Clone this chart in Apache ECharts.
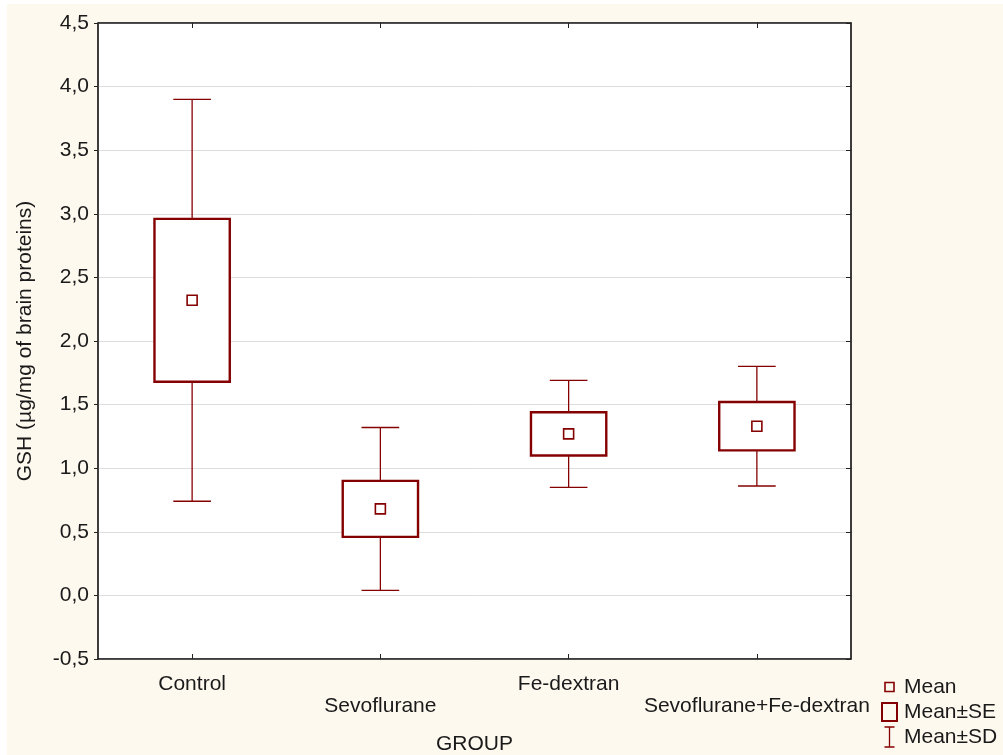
<!DOCTYPE html>
<html>
<head>
<meta charset="utf-8">
<title>GSH by group</title>
<script src="https://cdn.jsdelivr.net/npm/echarts@6/dist/echarts.min.js"></script>
<style>
  html, body { margin: 0; padding: 0; background: #ffffff; }
  #chart { position: absolute; left: 7px; top: 4px; width: 996px; height: 751px; }
</style>
</head>
<body>
<div id="chart"></div>
<script>
// GSH per treatment group: mean, standard error and standard deviation
const categories = ['Control', 'Sevoflurane', 'Fe-dextran', 'Sevoflurane+Fe-dextran'];
const means = [2.32, 0.68, 1.27, 1.33];
const se = [0.64, 0.22, 0.17, 0.19];
const sd = [1.58, 0.64, 0.42, 0.47];

// value axis range and step
const yMin = -0.5;
const yMax = 4.5;
const yStep = 0.5;

const RED = '#850000';
const FONT = "'Liberation Sans', Arial, sans-serif";
const FS = 21;
const TEXT = '#1a1a1a';
const AXIS = '#222222';

const sdData = categories.map((c, i) => [i, means[i] - sd[i], means[i] + sd[i]]);
const seData = categories.map((c, i) => [i, means[i] - se[i], means[i] + se[i]]);
const meanData = categories.map((c, i) => [i, means[i]]);

const chart = echarts.init(document.getElementById('chart'), null, { renderer: 'canvas' });

function legendEntry(name, icon, w, h, left, top, textPad, lineWidth) {
  return {
    orient: 'vertical',
    padding: 0,
    selectedMode: false,
    left: left,
    top: top,
    itemWidth: w,
    itemHeight: h,
    textStyle: { fontFamily: FONT, fontSize: FS, color: TEXT, padding: [0, 0, 0, textPad] },
    data: [{ name: name, icon: icon,
             itemStyle: { color: 'none', borderColor: RED, borderWidth: lineWidth } }]
  };
}

chart.setOption({
  animation: false,
  backgroundColor: '#fef9ef',
  textStyle: { fontFamily: FONT },
  grid: {
    left: 91, top: 19, right: 152, bottom: 96,
    outerBoundsMode: 'none',
    containLabel: false,
    show: true, backgroundColor: '#ffffff', borderColor: AXIS, borderWidth: 1
  },
  legend: [
    legendEntry('Mean', 'path://M0,0L9,0L9,9L0,9Z', 9, 9, 875.5, 672.5, 5, 1.6),
    legendEntry('Mean±SE', 'path://M0,0L15,0L15,18L0,18Z', 15, 18, 872.5, 696.5, 2, 2),
    legendEntry('Mean±SD', 'path://M0,0L10,0M5,0L5,20M0,20L10,20', 10, 20, 875, 720.5, 4.5, 1.3)
  ],
  xAxis: [
    {
      type: 'category',
      data: categories,
      position: 'bottom',
      name: 'GROUP',
      nameLocation: 'middle',
      nameGap: 75,
      nameTextStyle: { fontFamily: FONT, fontSize: FS, color: TEXT },
      axisLine: { show: true, onZero: false, lineStyle: { color: AXIS, width: 1.5 } },
      axisTick: { show: true, alignWithLabel: true, inside: true, length: 5, lineStyle: { color: AXIS } },
      axisLabel: {
        interval: 0,
        margin: 15,
        fontFamily: FONT,
        fontSize: FS,
        color: TEXT,
        formatter: (v, i) => (i % 2 ? '{lo|' + v + '}' : '{hi|' + v + '}'),
        rich: {
          hi: { fontFamily: FONT, fontSize: FS, color: TEXT, lineHeight: 21 },
          lo: { fontFamily: FONT, fontSize: FS, color: TEXT, lineHeight: 65 }
        }
      },
      splitLine: { show: false }
    },
    {
      type: 'category',
      data: categories,
      position: 'top',
      axisLine: { show: true, onZero: false, lineStyle: { color: AXIS, width: 1.5 } },
      axisTick: { show: true, alignWithLabel: true, inside: true, length: 5, lineStyle: { color: AXIS } },
      axisLabel: { show: false },
      splitLine: { show: false }
    }
  ],
  yAxis: [
    {
      type: 'value',
      min: yMin, max: yMax, interval: yStep,
      position: 'left',
      name: 'GSH (µg/mg of brain proteins)',
      nameLocation: 'middle',
      nameGap: 62,
      nameTextStyle: { fontFamily: FONT, fontSize: FS, color: TEXT },
      axisLine: { show: true, onZero: false, lineStyle: { color: AXIS, width: 1.5 } },
      axisTick: { show: true, inside: false, length: 4, lineStyle: { color: AXIS } },
      axisLabel: {
        margin: 9,
        fontFamily: FONT,
        fontSize: FS,
        color: TEXT,
        formatter: v => v.toFixed(1).replace('.', ',')
      },
      splitLine: { show: true, lineStyle: { color: '#dddddd', width: 1 } }
    },
    {
      type: 'value',
      min: yMin, max: yMax, interval: yStep,
      position: 'right',
      axisLine: { show: true, onZero: false, lineStyle: { color: AXIS, width: 1.5 } },
      axisTick: { show: true, inside: true, length: 5, lineStyle: { color: AXIS } },
      axisLabel: { show: false },
      splitLine: { show: false }
    }
  ],
  series: [
    {
      name: 'Mean±SD',
      type: 'custom',
      xAxisIndex: 0, yAxisIndex: 0,
      encode: { x: 0, y: [1, 2] },
      data: sdData,
      z: 2,
      renderItem: (params, api) => {
        const i = api.value(0);
        const lo = api.coord([i, api.value(1)]);
        const hi = api.coord([i, api.value(2)]);
        const half = api.size([1, 0])[0] * 0.1;
        const style = { stroke: RED, lineWidth: 1.3, fill: null };
        return {
          type: 'group',
          children: [
            { type: 'line', shape: { x1: hi[0], y1: hi[1], x2: lo[0], y2: lo[1] }, style },
            { type: 'line', shape: { x1: hi[0] - half, y1: hi[1], x2: hi[0] + half, y2: hi[1] }, style },
            { type: 'line', shape: { x1: lo[0] - half, y1: lo[1], x2: lo[0] + half, y2: lo[1] }, style }
          ]
        };
      }
    },
    {
      name: 'Mean±SE',
      type: 'custom',
      xAxisIndex: 0, yAxisIndex: 0,
      encode: { x: 0, y: [1, 2] },
      data: seData,
      z: 3,
      renderItem: (params, api) => {
        const i = api.value(0);
        const lo = api.coord([i, api.value(1)]);
        const hi = api.coord([i, api.value(2)]);
        const w = api.size([1, 0])[0] * 0.4;
        return {
          type: 'rect',
          shape: { x: hi[0] - w / 2, y: hi[1], width: w, height: lo[1] - hi[1] },
          style: { fill: '#ffffff', stroke: RED, lineWidth: 2.4 }
        };
      }
    },
    {
      name: 'Mean',
      type: 'custom',
      xAxisIndex: 0, yAxisIndex: 0,
      encode: { x: 0, y: 1 },
      data: meanData,
      z: 4,
      renderItem: (params, api) => {
        const p = api.coord([api.value(0), api.value(1)]);
        const s = 10;
        return {
          type: 'rect',
          shape: { x: p[0] - s / 2, y: p[1] - s / 2, width: s, height: s },
          style: { fill: '#ffffff', stroke: RED, lineWidth: 1.6 }
        };
      }
    }
  ]
});
</script>
</body>
</html>
